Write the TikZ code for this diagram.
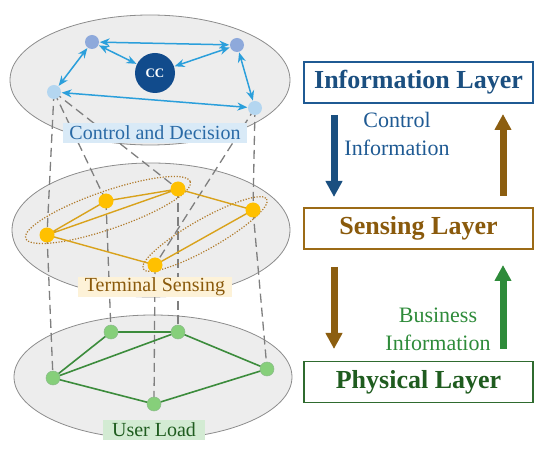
\documentclass[tikz,border=0pt]{standalone}
\usepackage{fontspec}
\setmainfont{Liberation Serif}
\usetikzlibrary{arrows.meta,shapes.geometric}
\definecolor{ellfill}{HTML}{EDEDED}
\definecolor{ellline}{HTML}{8C8C8C}
\definecolor{arrblue}{HTML}{2B9FDB}
\definecolor{nodeA}{HTML}{8EA9DB}
\definecolor{nodeC}{HTML}{B4D6F0}
\definecolor{ccblue}{HTML}{114B8C}
\definecolor{orangeN}{HTML}{FFC000}
\definecolor{orangeE}{HTML}{D9A21B}
\definecolor{dotbrown}{HTML}{B07A2A}
\definecolor{greenN}{HTML}{86CF7A}
\definecolor{greenE}{HTML}{3C8C3C}
\definecolor{dashgray}{HTML}{7F7F7F}
\definecolor{lblblue}{HTML}{D9EAF7}
\definecolor{lblyellow}{HTML}{FDF2D8}
\definecolor{lblgreen}{HTML}{D3EBD3}
\definecolor{infoC}{HTML}{1F5A93}
\definecolor{infoT}{HTML}{1B4F80}
\definecolor{sensC}{HTML}{9C6B16}
\definecolor{sensT}{HTML}{8A5A0C}
\definecolor{physC}{HTML}{2F6B2F}
\definecolor{physT}{HTML}{1F5C1F}
\definecolor{brownA}{HTML}{8C5E10}
\definecolor{greenA}{HTML}{2E8B3A}
\definecolor{blueA}{HTML}{1A4F80}
\definecolor{lbltxtblue}{HTML}{2A6AA6}
\tikzset{
  layer/.style={fill=ellfill, draw=ellline, line width=0.8pt},
  dashln/.style={draw=dashgray, line width=1.3pt, dash pattern=on 9pt off 5pt},
  bnode/.style={circle, inner sep=0pt, minimum size=14pt},
  link/.style={draw=arrblue, line width=1.5pt, {Stealth[length=10pt,width=8pt]}-{Stealth[length=10pt,width=8pt]}, shorten <=0.5pt, shorten >=0.5pt},
  onode/.style={circle, fill=orangeN, inner sep=0pt, minimum size=15pt},
  oedge/.style={draw=orangeE, line width=1.4pt},
  dotell/.style={draw=dotbrown, line width=1.2pt, dash pattern=on 1.2pt off 1.6pt},
  gnode/.style={circle, fill=greenN, draw=greenE!60, line width=0.5pt, inner sep=0pt, minimum size=14pt},
  gedge/.style={draw=greenE, line width=1.6pt},
  lbl/.style={font=\fontsize{20}{22}\selectfont, inner sep=1pt, minimum height=20pt},
  layerbox/.style={draw, line width=1.6pt, fill=white, minimum width=229pt, minimum height=41pt, font=\fontsize{26}{28}\selectfont\bfseries},
  blk/.style={line width=7pt, -{Triangle[width=16pt,length=16pt]}},
  info/.style={font=\fontsize{22}{28}\selectfont, align=center}
}
\begin{document}
\begin{tikzpicture}[x=1pt,y=-1pt]
\useasboundingbox (0,0) rectangle (550,457);
% layer ellipses
\draw[layer] (150,80) ellipse [x radius=140, y radius=65];
\draw[layer] (151,230) ellipse [x radius=139, y radius=67];
\draw[layer] (153,377) ellipse [x radius=139, y radius=62];
% node coordinates
\coordinate (A) at (92,42);
\coordinate (B) at (237,45);
\coordinate (CCc) at (155,73);
\coordinate (C) at (54,92);
\coordinate (D) at (255,108);
\coordinate (P1) at (47,235);
\coordinate (P2) at (106,201);
\coordinate (P3) at (178,189);
\coordinate (P4) at (253,210);
\coordinate (P5) at (155,265);
\coordinate (G1) at (53,378);
\coordinate (G2) at (111,332);
\coordinate (G3) at (178,332);
\coordinate (G4) at (267,369);
\coordinate (G5) at (154,404);
% dashed vertical links
\draw[dashln] (C) -- (P1);
\draw[dashln] (C) -- (P2);
\draw[dashln] (C) -- (P3);
\draw[dashln] (D) -- (P5);
\draw[dashln] (D) -- (P4);
\draw[dashln] (P1) -- (G1);
\draw[dashln] (P2) -- (G2);
\draw[dashln] (P3) -- (G3);
\draw[dashln] (P5) -- (G5);
\draw[dashln] (P4) -- (G4);
% labels
\node[lbl, fill=lblblue, text=lbltxtblue, minimum width=184pt] (lc) at (155,133) {Control and Decision};
\node[lbl, fill=lblyellow, text=sensT, minimum width=154pt] (lt) at (155,287) {Terminal Sensing};
\node[lbl, fill=lblgreen, text=physT, minimum width=102pt] (lu) at (154,430) {User Load};
% top layer nodes
\node[bnode, fill=nodeA] (a) at (A) {};
\node[bnode, fill=nodeA] (b) at (B) {};
\node[bnode, fill=nodeC] (c) at (C) {};
\node[bnode, fill=nodeC] (d) at (D) {};
\node[circle, fill=ccblue, minimum size=40pt, inner sep=0pt, text=white, font=\fontsize{13}{14}\selectfont\bfseries] (cc) at (CCc) {CC};
\draw[link] (a) -- (b);
\draw[link] (a) -- (cc);
\draw[link] (b) -- (cc);
\draw[link] (a) -- (c);
\draw[link] (b) -- (d);
\draw[link] (c) -- (d);
% middle layer
\draw[dotell, rotate around={19:(108,210)}] (108,210) ellipse [x radius=87, y radius=19];
\draw[dotell, rotate around={29.5:(205,234)}] (205,234) ellipse [x radius=71, y radius=15];
\draw[oedge] (P1) -- (P2) -- (P3) -- (P4) -- (P5) -- (P1) -- (P3);
\node[onode] (p1) at (P1) {};
\node[onode] (p2) at (P2) {};
\node[onode] (p3) at (P3) {};
\node[onode] (p4) at (P4) {};
\node[onode] (p5) at (P5) {};
% bottom layer
\draw[gedge] (G1) -- (G2) -- (G3) -- (G4) -- (G5) -- (G1) -- (G3);
\node[gnode] (g1) at (G1) {};
\node[gnode] (g2) at (G2) {};
\node[gnode] (g3) at (G3) {};
\node[gnode] (g4) at (G4) {};
\node[gnode] (g5) at (G5) {};
% right side
\node[layerbox, draw=infoC, text=infoT] (info) at (418.5,82.5) {Information Layer};
\node[layerbox, draw=sensC, text=sensT] (sens) at (418.5,228.5) {Sensing Layer};
\node[layerbox, draw=physC, text=physT] (phys) at (418.5,382) {Physical Layer};
\coordinate (a1s) at (334,115);
\coordinate (a1e) at (334,197);
\coordinate (a2s) at (503,196);
\coordinate (a2e) at (503,114);
\coordinate (a3s) at (334,267);
\coordinate (a3e) at (334,349);
\coordinate (a4s) at (503,349);
\coordinate (a4e) at (503,265);
\draw[blk, draw=blueA] (a1s) -- (a1e);
\draw[blk, draw=brownA] (a2s) -- (a2e);
\draw[blk, draw=brownA] (a3s) -- (a3e);
\draw[blk, draw=greenA] (a4s) -- (a4e);
\node[info, text=infoC] (ctl) at (397,134) {Control\\Information};
\node[info, text=greenA] (bus) at (438,329) {Business\\Information};
\end{tikzpicture}
\end{document}
